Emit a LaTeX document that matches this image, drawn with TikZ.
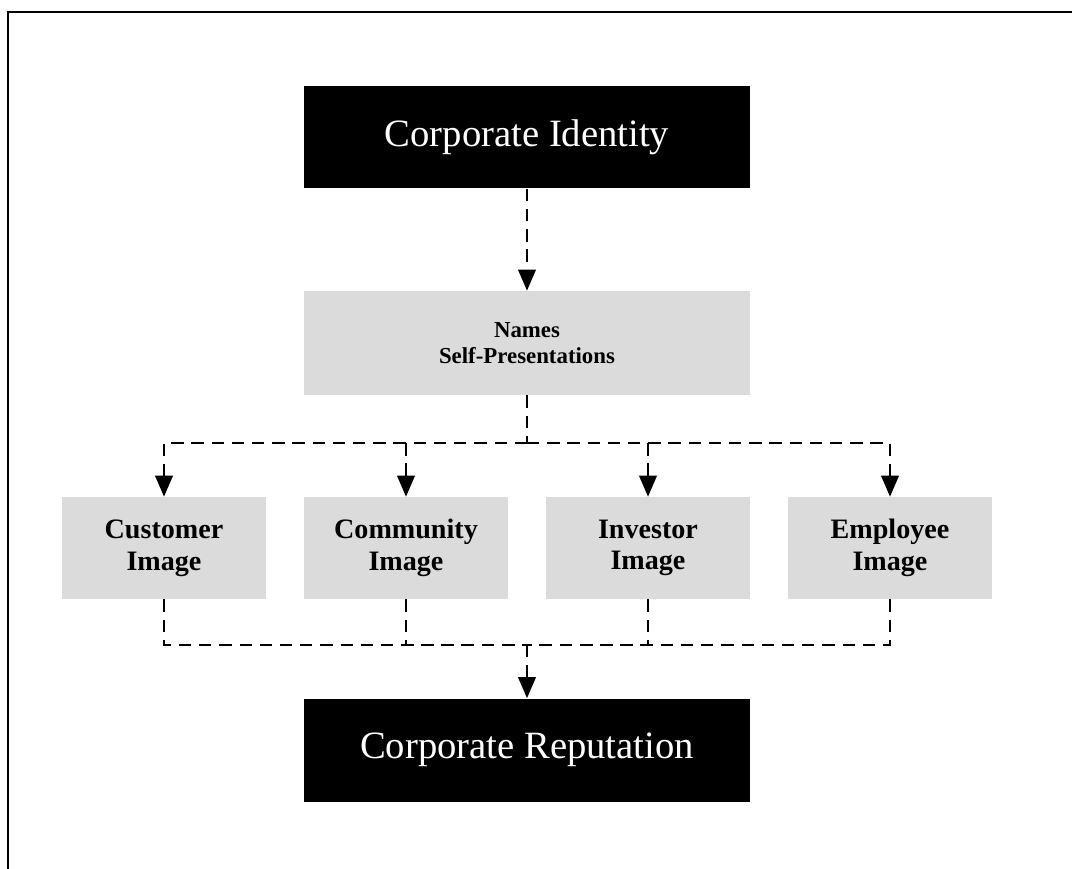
\documentclass[tikz,border=0pt]{standalone}
\usepackage{fontspec}
\setmainfont{Liberation Serif}
\usetikzlibrary{arrows.meta,positioning}

\begin{document}
\begin{tikzpicture}[x=0.02cm, y=-0.02cm,
  darkbox/.style={fill=black, text=white, minimum width=8.92cm, minimum height=2.06cm,
    inner sep=0pt, font=\fontsize{22}{26}\selectfont},
  namebox/.style={fill=black!14, minimum width=8.92cm, minimum height=2.08cm,
    inner sep=0pt, align=center, font=\fontsize{13}{15}\selectfont\bfseries},
  imgbox/.style={fill=black!14, minimum width=4.08cm, minimum height=2.04cm,
    inner sep=0pt, align=center, font=\fontsize{16}{18}\selectfont\bfseries},
  link/.style={line width=1.3pt, dash pattern=on 7pt off 4.5pt},
  tip/.style={link, -{Triangle[length=12pt, width=10pt]}}]

\useasboundingbox (0,0) rectangle (1072,869);
% scan frame (top and left only)
\draw[line width=1.2pt] (1072,12) -- (8,12) -- (8,869);

% Top
\node[darkbox] (ident) at (527,137) {Corporate Identity};
\node[namebox] (names) at (527,343) {Names\\Self-Presentations};

% Row of images
\node[imgbox] (cust) at (164,548) {Customer\\Image};
\node[imgbox] (comm) at (406,548) {Community\\Image};
\node[imgbox] (inv) at (648,548) {Investor\\Image};
\node[imgbox] (empl) at (890,548) {Employee\\Image};

% Bottom
\node[darkbox] (rep) at (527,750) {Corporate Reputation};

\coordinate (split) at (527,443);
\coordinate (join) at (527,645);

% Connecting arrows
\draw[tip] (ident) -- (names);
\draw[link] (names) -- (split);
\draw[tip] (split) -| (cust);
\draw[tip] (split) -| (comm);
\draw[tip] (split) -| (inv);
\draw[tip] (split) -| (empl);
\draw[link] (cust) |- (join);
\draw[link] (comm) |- (join);
\draw[link] (inv) |- (join);
\draw[link] (empl) |- (join);
\draw[tip] (join) -- (rep);

\end{tikzpicture}
\end{document}
